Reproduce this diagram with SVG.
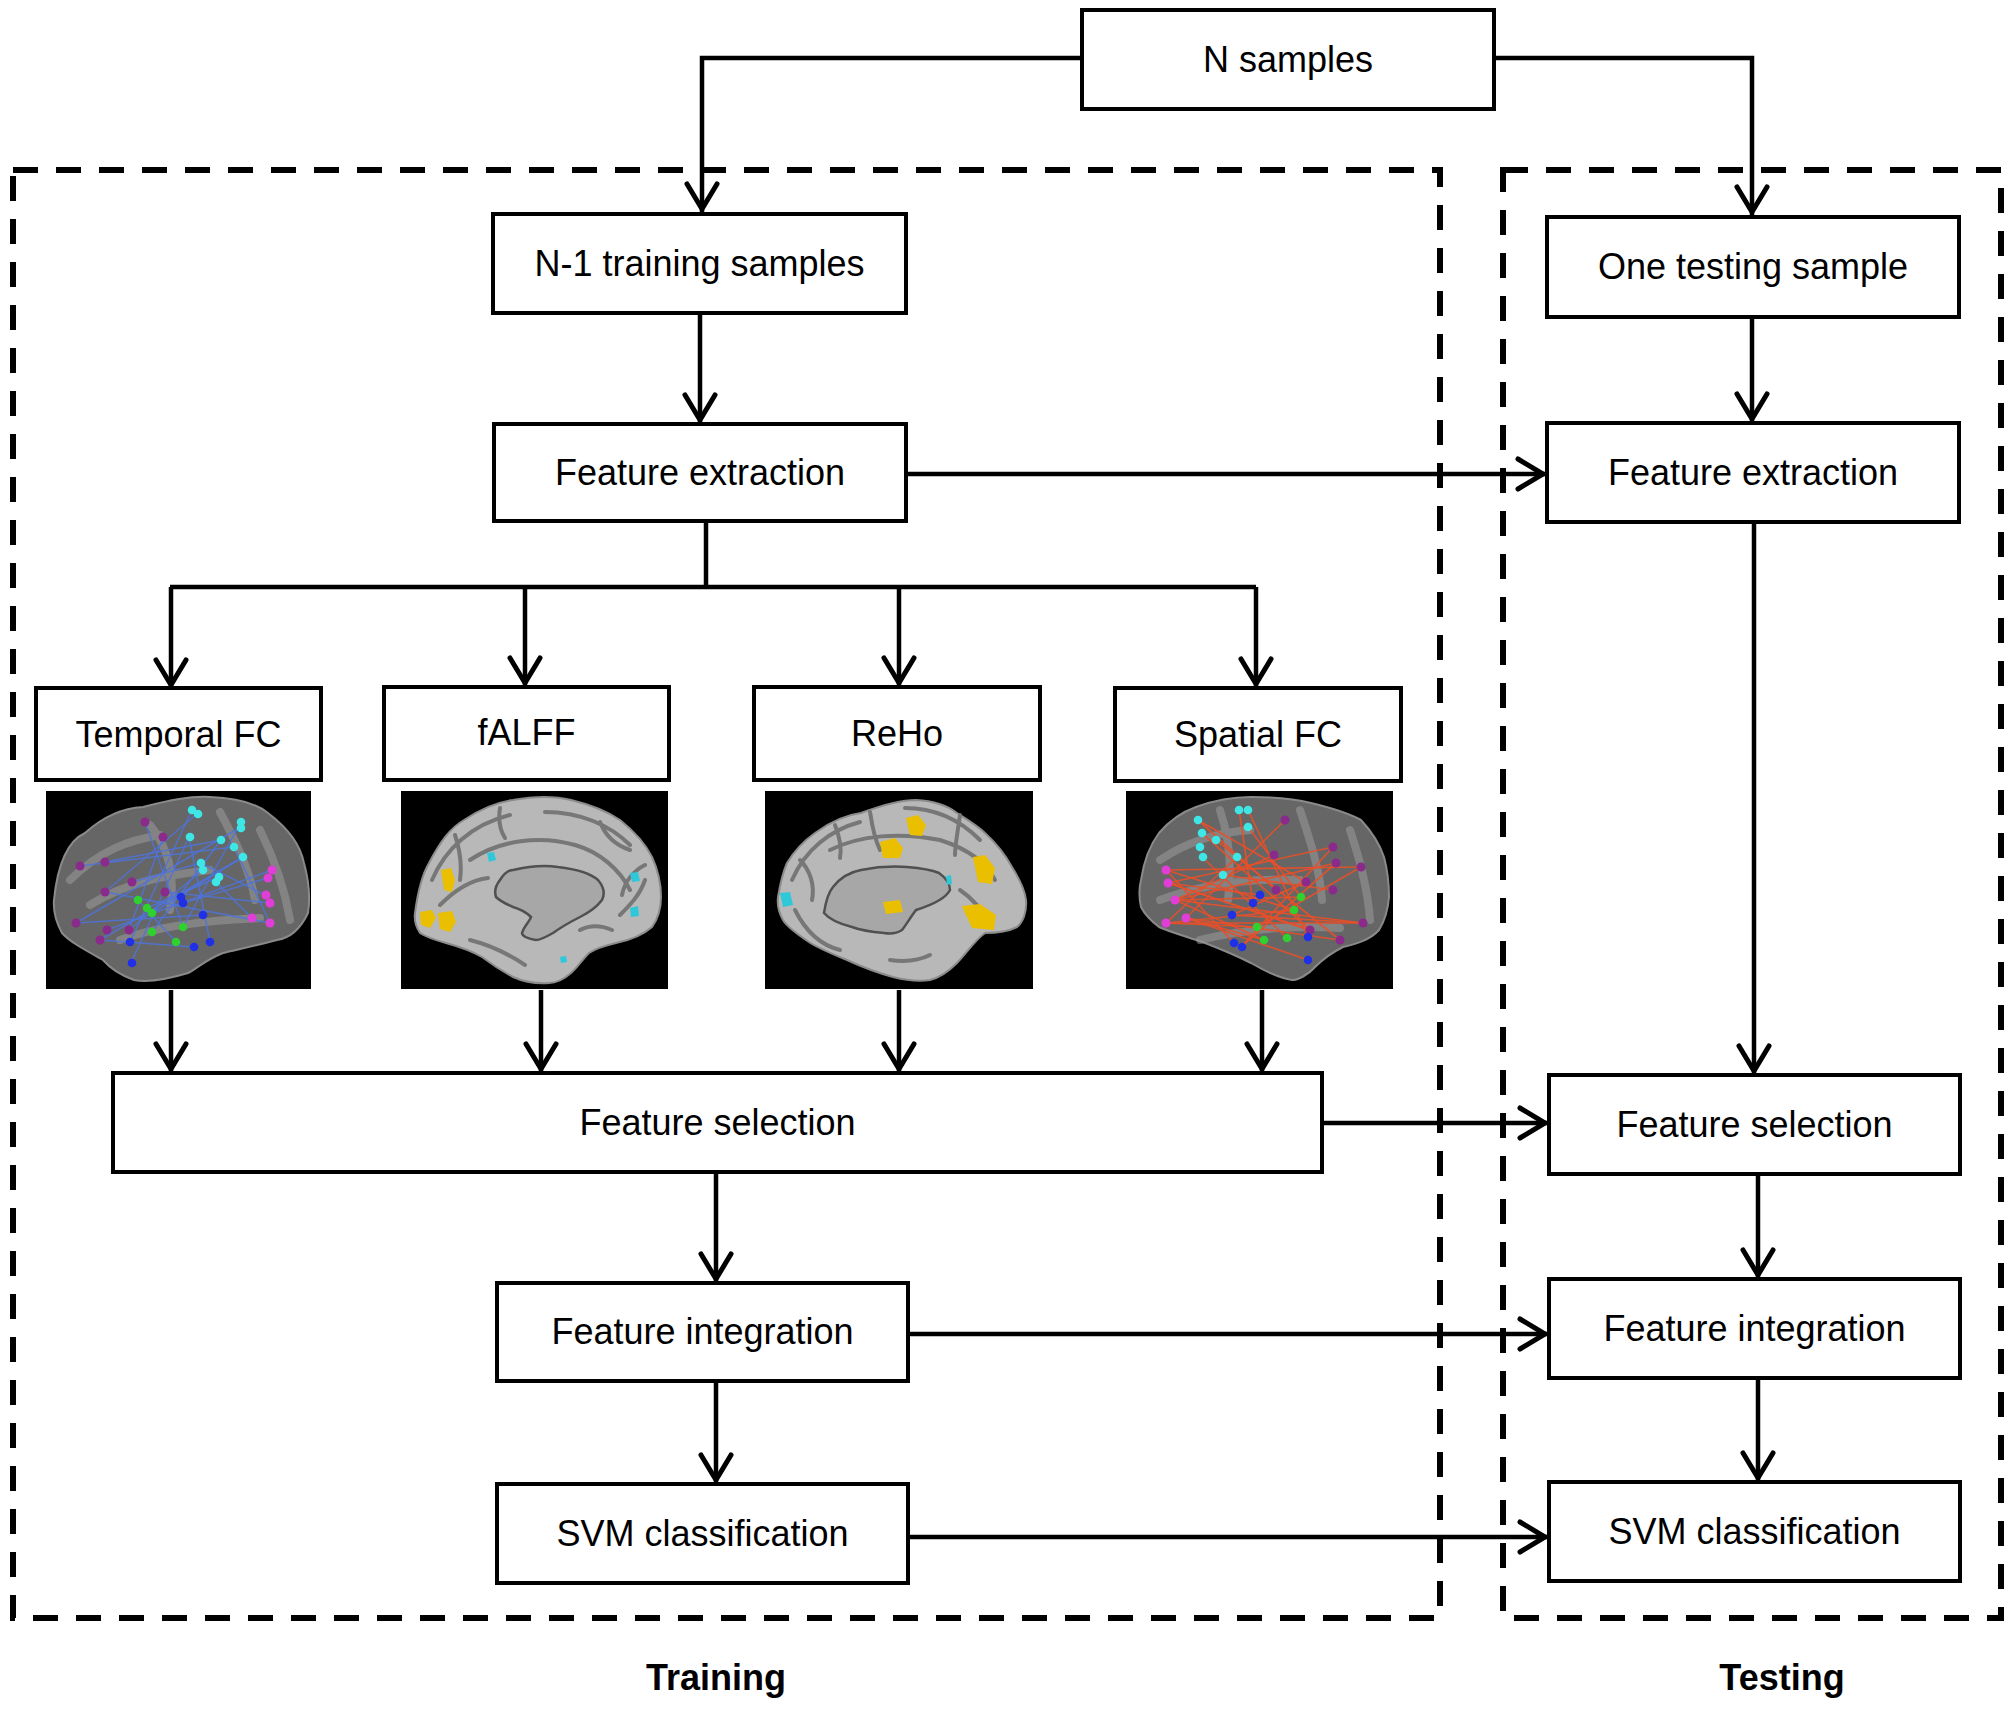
<svg xmlns="http://www.w3.org/2000/svg" width="2008" height="1709" viewBox="0 0 2008 1709">
<style>
.box{fill:#fff;stroke:#000;stroke-width:4}
.lbl{font-family:"Liberation Sans",Arial,sans-serif;font-size:36px;fill:#000;text-anchor:middle}
.ttl{font-family:"Liberation Sans",Arial,sans-serif;font-size:36px;font-weight:bold;fill:#000;text-anchor:middle}
.cn{fill:none;stroke:#000;stroke-width:4.5}
.arr{marker-end:url(#ah)}
.dash{fill:none;stroke:#000;stroke-width:6;stroke-dasharray:25 18}
.bg{fill:#000}
.lat{fill:#666;stroke:#8a8a8a;stroke-width:2}
.gy{fill:none;stroke:#a0a0a0;stroke-width:8;stroke-linecap:round;opacity:.5}
.med{fill:#b8b8b8;stroke:#8c8c8c;stroke-width:2}
.sul{fill:none;stroke:#777;stroke-width:4;stroke-linecap:round}
.cc{fill:#a7a7a7;stroke:#505050;stroke-width:2.5}
.bl line{stroke:#4f74da;stroke-width:1.5;opacity:.85}
.rl line{stroke:#e8502a;stroke-width:1.7;opacity:.9}
.cy{fill:#3fe6e6}.pu{fill:#8a2a8a}.mg{fill:#e03ed6}.gr{fill:#2fd02f}.bu{fill:#2030e6}
.yl{fill:#e9bf00}.cya{fill:#2fc8d8}
</style>
<defs>
<marker id="ah" markerUnits="userSpaceOnUse" viewBox="-36 -20 40 40" markerWidth="40" markerHeight="40" refX="0" refY="0" orient="auto" overflow="visible">
<path d="M-29,-15 L-4,0 L-29,15" fill="none" stroke="#000" stroke-width="5" stroke-linecap="round"/>
</marker>
</defs>
<rect width="2008" height="1709" fill="#fff"/>

<g id="regions">
<rect class="dash" x="13" y="170" width="1427" height="1448"/>
<rect class="dash" x="1503" y="170" width="498" height="1448"/>
<text class="ttl" x="716" y="1690">Training</text>
<text class="ttl" x="1782" y="1690">Testing</text>
</g>

<g id="connectors">
<path class="cn arr" d="M1082,58 H702 V213"/>
<path class="cn arr" d="M1494,58 H1752 V216"/>
<path class="cn arr" d="M700,313 V424"/>
<path class="cn arr" d="M906,474 H1547"/>
<path class="cn" d="M706,521 V587"/>
<path class="cn" d="M170,587 H1256"/>
<path class="cn arr" d="M171,587 V689"/>
<path class="cn arr" d="M525,587 V687"/>
<path class="cn arr" d="M899,587 V687"/>
<path class="cn arr" d="M1256,587 V688"/>
<path class="cn arr" d="M171,990 V1073"/>
<path class="cn arr" d="M541,990 V1073"/>
<path class="cn arr" d="M899,990 V1073"/>
<path class="cn arr" d="M1262,990 V1073"/>
<path class="cn arr" d="M1752,317 V423"/>
<path class="cn arr" d="M1754,522 V1075"/>
<path class="cn arr" d="M1322,1123 H1549"/>
<path class="cn arr" d="M716,1172 V1283"/>
<path class="cn arr" d="M716,1381 V1484"/>
<path class="cn arr" d="M908,1334 H1549"/>
<path class="cn arr" d="M908,1537 H1549"/>
<path class="cn arr" d="M1758,1174 V1279"/>
<path class="cn arr" d="M1758,1378 V1482"/>
</g>

<g id="n-samples"><rect class="box" x="1082" y="10" width="412" height="99"/><text class="lbl" x="1288" y="72">N samples</text></g>
<g id="n1-training"><rect class="box" x="493" y="214" width="413" height="99"/><text class="lbl" x="699.5" y="276">N-1 training samples</text></g>
<g id="fe-train"><rect class="box" x="494" y="424" width="412" height="97"/><text class="lbl" x="700" y="485">Feature extraction</text></g>
<g id="one-testing"><rect class="box" x="1547" y="217" width="412" height="100"/><text class="lbl" x="1753" y="279">One testing sample</text></g>
<g id="fe-test"><rect class="box" x="1547" y="423" width="412" height="99"/><text class="lbl" x="1753" y="485">Feature extraction</text></g>
<g id="temporal-fc"><rect class="box" x="36" y="688" width="285" height="92"/><text class="lbl" x="178.5" y="747">Temporal FC</text></g>
<g id="falff"><rect class="box" x="384" y="687" width="285" height="93"/><text class="lbl" x="526.5" y="745">fALFF</text></g>
<g id="reho"><rect class="box" x="754" y="687" width="286" height="93"/><text class="lbl" x="897" y="746">ReHo</text></g>
<g id="spatial-fc"><rect class="box" x="1115" y="688" width="286" height="93"/><text class="lbl" x="1258" y="747">Spatial FC</text></g>
<g id="fs-train"><rect class="box" x="113" y="1073" width="1209" height="99"/><text class="lbl" x="717.5" y="1135">Feature selection</text></g>
<g id="fs-test"><rect class="box" x="1549" y="1075" width="411" height="99"/><text class="lbl" x="1754.5" y="1137">Feature selection</text></g>
<g id="fi-train"><rect class="box" x="497" y="1283" width="411" height="98"/><text class="lbl" x="702.5" y="1344">Feature integration</text></g>
<g id="fi-test"><rect class="box" x="1549" y="1279" width="411" height="99"/><text class="lbl" x="1754.5" y="1341">Feature integration</text></g>
<g id="svm-train"><rect class="box" x="497" y="1484" width="411" height="99"/><text class="lbl" x="702.5" y="1546">SVM classification</text></g>
<g id="svm-test"><rect class="box" x="1549" y="1482" width="411" height="99"/><text class="lbl" x="1754.5" y="1544">SVM classification</text></g>

<g id="brain-temporal-fc">
<rect class="bg" x="46" y="791" width="265" height="198"/>
<path class="lat" d="M54,900 C58,860 70,840 85,833 C105,815 125,808 143,807 C170,800 190,796 210,797 C240,798 258,805 268,813 C290,830 300,845 304,863 C310,885 310,900 308,913 C300,930 290,938 277,940 C255,946 235,950 223,953 C205,960 195,970 188,973 C165,980 145,982 134,980 C120,975 110,968 103,960 C85,950 70,942 62,933 C56,922 53,912 54,900 Z"/>
<path class="gy" d="M70,880 C100,850 130,840 160,835 M90,905 C130,880 170,875 210,870 M120,940 C160,925 210,920 260,918 M150,825 C170,850 175,880 170,910 M220,812 C235,840 250,870 255,900 M260,830 C275,860 285,890 290,920"/>
<g class="bl">
<line x1="192" y1="810" x2="130" y2="942"/><line x1="198" y1="813" x2="105" y2="892"/><line x1="241" y1="822" x2="183" y2="927"/><line x1="241" y1="827" x2="76" y2="923"/><line x1="189" y1="837" x2="210" y2="942"/><line x1="221" y1="840" x2="152" y2="932"/><line x1="234" y1="847" x2="270" y2="923"/><line x1="243" y1="857" x2="100" y2="940"/><line x1="201" y1="863" x2="265" y2="895"/><line x1="203" y1="870" x2="129" y2="930"/><line x1="219" y1="877" x2="147" y2="908"/><line x1="216" y1="882" x2="252" y2="918"/><line x1="80" y1="866" x2="234" y2="847"/><line x1="105" y1="862" x2="221" y2="840"/><line x1="165" y1="892" x2="270" y2="903"/><line x1="76" y1="923" x2="203" y2="915"/><line x1="107" y1="930" x2="272" y2="870"/><line x1="138" y1="900" x2="176" y2="942"/><line x1="152" y1="913" x2="243" y2="857"/><line x1="131" y1="963" x2="189" y2="837"/><line x1="183" y1="903" x2="268" y2="878"/><line x1="100" y1="940" x2="194" y2="947"/><line x1="132" y1="882" x2="201" y2="863"/><line x1="145" y1="822" x2="183" y2="927"/><line x1="163" y1="837" x2="129" y2="930"/><line x1="105" y1="892" x2="270" y2="923"/>
</g>
<g class="cy"><circle cx="192" cy="810" r="4.3"/><circle cx="198" cy="814" r="4.3"/><circle cx="241" cy="822" r="4.3"/><circle cx="241" cy="828" r="4.3"/><circle cx="190" cy="837" r="4.3"/><circle cx="221" cy="840" r="4.3"/><circle cx="234" cy="847" r="4.3"/><circle cx="243" cy="857" r="4.3"/><circle cx="201" cy="863" r="4.3"/><circle cx="203" cy="870" r="4.3"/><circle cx="219" cy="877" r="4.3"/><circle cx="216" cy="882" r="4.3"/></g>
<g class="pu"><circle cx="145" cy="822" r="4.5"/><circle cx="163" cy="837" r="4.5"/><circle cx="105" cy="862" r="4.5"/><circle cx="80" cy="866" r="4.5"/><circle cx="132" cy="882" r="4.5"/><circle cx="105" cy="892" r="4.5"/><circle cx="165" cy="892" r="4.5"/><circle cx="76" cy="923" r="4.5"/><circle cx="107" cy="930" r="4.5"/><circle cx="129" cy="930" r="4.5"/><circle cx="100" cy="940" r="4.5"/></g>
<g class="mg"><circle cx="272" cy="870" r="4.5"/><circle cx="268" cy="878" r="4.5"/><circle cx="266" cy="895" r="4.5"/><circle cx="270" cy="903" r="4.5"/><circle cx="252" cy="918" r="4.5"/><circle cx="270" cy="923" r="4.5"/></g>
<g class="gr"><circle cx="138" cy="900" r="4.3"/><circle cx="147" cy="908" r="4.3"/><circle cx="152" cy="913" r="4.3"/><circle cx="183" cy="927" r="4.3"/><circle cx="152" cy="932" r="4.3"/><circle cx="176" cy="942" r="4.3"/></g>
<g class="bu"><circle cx="181" cy="897" r="4.3"/><circle cx="183" cy="903" r="4.3"/><circle cx="203" cy="915" r="4.3"/><circle cx="130" cy="942" r="4.3"/><circle cx="210" cy="942" r="4.3"/><circle cx="194" cy="947" r="4.3"/><circle cx="132" cy="963" r="4.3"/></g>
</g>

<g id="brain-falff">
<rect class="bg" x="401" y="791" width="267" height="198"/>
<path class="med" d="M415,913 C418,890 422,875 429,863 C440,842 450,828 464,820 C482,808 498,802 513,800 C535,796 555,796 571,800 C592,805 608,812 620,820 C635,832 646,845 652,857 C658,870 661,885 661,897 C661,910 657,920 652,927 C642,936 630,940 616,943 C603,946 595,949 589,953 C582,960 577,968 571,973 C563,980 556,983 549,983 C535,984 522,981 513,977 C500,970 490,963 482,957 C470,950 457,946 446,943 C435,940 426,937 420,933 C416,927 414,920 415,913 Z"/>
<path class="sul" d="M432,880 C445,850 470,825 510,815 M545,812 C580,812 610,825 630,845 M470,860 C500,840 540,835 575,845 C600,852 620,870 630,890 M440,905 C455,890 470,880 488,878 M620,915 C630,905 640,895 645,880 M470,940 C490,945 510,955 525,965 M580,930 C590,925 600,925 612,930 M455,835 C460,850 462,865 460,880 M600,822 C605,835 615,845 630,850 M500,808 C498,820 500,830 505,838 M645,865 C635,870 625,880 622,895"/>
<path class="cc" d="M500,880 C505,872 510,870 513,870 C530,866 545,865 558,867 C575,869 590,873 598,880 C604,887 605,894 602,900 C596,908 588,913 580,917 C568,923 560,928 553,933 C546,937 540,940 536,940 C528,939 522,936 522,933 C524,926 530,921 531,917 C526,912 520,909 513,907 C506,904 500,901 496,897 C494,891 496,885 500,880 Z"/>
<path class="yl" d="M441,870 L451,868 L455,880 L452,892 L444,890 Z"/>
<path class="yl" d="M420,912 L432,910 L436,918 L430,928 L421,925 Z"/>
<path class="yl" d="M438,913 L452,911 L456,922 L450,932 L440,929 Z"/>
<path class="cya" d="M487,853 L494,852 L496,860 L489,862 Z"/>
<path class="cya" d="M630,873 L638,872 L640,881 L632,882 Z"/>
<path class="cya" d="M630,908 L638,906 L639,916 L631,917 Z"/>
<path class="cya" d="M560,957 L566,956 L567,962 L561,963 Z"/>
</g>

<g id="brain-reho">
<rect class="bg" x="765" y="791" width="268" height="198"/>
<path class="med" d="M778,897 C780,885 783,872 787,863 C795,850 805,840 815,833 C830,822 845,815 861,813 C880,806 900,800 916,800 C935,801 948,806 957,813 C968,820 978,826 985,833 C998,845 1006,856 1012,867 C1020,880 1025,890 1026,900 C1027,912 1023,922 1017,927 C1007,932 995,933 985,933 C975,940 965,955 957,963 C948,972 938,978 930,980 C918,982 905,980 893,977 C875,972 860,966 847,960 C830,953 815,947 806,940 C796,933 787,927 783,920 C779,913 777,905 778,897 Z"/>
<path class="sul" d="M792,880 C805,850 830,830 860,822 M905,808 C935,808 960,820 980,840 M830,850 C860,835 900,832 940,840 C965,848 985,860 995,880 M795,910 C805,930 820,945 840,950 M960,890 C975,900 985,915 990,925 M930,955 C920,960 905,962 890,960 M870,812 C872,825 875,840 880,850 M960,815 C958,830 955,845 955,855 M800,860 C810,870 815,885 812,900 M835,825 C840,838 842,848 840,858"/>
<path class="cc" d="M824,913 C826,900 828,893 833,887 C840,878 850,872 861,870 C876,867 893,866 907,867 C920,868 932,870 939,873 C946,878 950,884 950,890 C946,898 935,904 916,910 C910,918 906,925 902,930 C896,934 890,934 884,933 C872,932 860,930 852,927 C840,924 830,920 824,913 Z"/>
<path class="yl" d="M880,842 L895,838 L903,848 L900,858 L883,858 Z"/>
<path class="yl" d="M906,818 L918,815 L926,825 L922,836 L910,835 Z"/>
<path class="yl" d="M973,857 L985,855 L995,868 L992,884 L978,882 Z"/>
<path class="yl" d="M962,906 L980,904 L996,915 L994,930 L972,928 Z"/>
<path class="yl" d="M883,902 L900,900 L903,912 L886,914 Z"/>
<path class="cya" d="M780,893 L790,892 L793,905 L783,907 Z"/>
<path class="cya" d="M946,876 L951,875 L952,884 L947,885 Z"/>
</g>

<g id="brain-spatial-fc">
<rect class="bg" x="1126" y="791" width="267" height="198"/>
<path class="lat" d="M1141,880 C1144,860 1150,845 1159,833 C1170,820 1182,812 1196,807 C1215,800 1235,797 1251,797 C1275,797 1295,799 1311,803 C1332,808 1350,814 1361,820 C1372,832 1380,845 1384,857 C1388,872 1389,885 1389,897 C1388,910 1384,922 1379,930 C1370,940 1356,944 1343,947 C1333,952 1322,960 1315,967 C1308,975 1298,980 1292,980 C1278,978 1263,970 1251,963 C1235,955 1218,948 1205,943 C1188,937 1170,932 1159,927 C1150,920 1144,913 1141,907 C1139,898 1139,888 1141,880 Z"/>
<path class="gy" d="M1160,860 C1190,840 1220,832 1250,830 M1160,900 C1200,885 1250,878 1300,880 M1200,940 C1240,930 1290,925 1340,928 M1220,810 C1230,840 1232,870 1228,900 M1300,810 C1310,840 1320,870 1322,900 M1350,830 C1360,860 1368,890 1370,920"/>
<g class="rl">
<line x1="1166" y1="870" x2="1361" y2="867"/><line x1="1168" y1="883" x2="1333" y2="847"/><line x1="1175" y1="900" x2="1336" y2="863"/><line x1="1186" y1="918" x2="1308" y2="960"/><line x1="1166" y1="923" x2="1363" y2="923"/><line x1="1239" y1="810" x2="1253" y2="903"/><line x1="1248" y1="810" x2="1308" y2="937"/><line x1="1198" y1="820" x2="1306" y2="882"/><line x1="1216" y1="840" x2="1340" y2="940"/><line x1="1202" y1="857" x2="1287" y2="938"/><line x1="1237" y1="857" x2="1166" y2="923"/><line x1="1223" y1="875" x2="1333" y2="890"/><line x1="1285" y1="820" x2="1186" y2="918"/><line x1="1274" y1="855" x2="1175" y2="900"/><line x1="1260" y1="895" x2="1168" y2="883"/><line x1="1232" y1="915" x2="1363" y2="923"/><line x1="1234" y1="943" x2="1166" y2="870"/><line x1="1241" y1="947" x2="1333" y2="847"/><line x1="1301" y1="897" x2="1175" y2="900"/><line x1="1294" y1="910" x2="1166" y2="923"/><line x1="1257" y1="927" x2="1361" y2="867"/><line x1="1264" y1="940" x2="1186" y2="918"/><line x1="1310" y1="930" x2="1168" y2="883"/><line x1="1276" y1="890" x2="1198" y2="820"/><line x1="1306" y1="882" x2="1232" y2="915"/><line x1="1336" y1="863" x2="1241" y2="947"/><line x1="1248" y1="827" x2="1301" y2="897"/><line x1="1202" y1="833" x2="1310" y2="930"/><line x1="1175" y1="900" x2="1363" y2="923"/><line x1="1166" y1="870" x2="1294" y2="910"/><line x1="1340" y1="940" x2="1186" y2="918"/><line x1="1166" y1="923" x2="1257" y2="927"/><line x1="1168" y1="883" x2="1310" y2="930"/><line x1="1175" y1="900" x2="1264" y2="940"/>
</g>
<g class="cy"><circle cx="1239" cy="810" r="4.3"/><circle cx="1248" cy="810" r="4.3"/><circle cx="1198" cy="820" r="4.3"/><circle cx="1202" cy="833" r="4.3"/><circle cx="1216" cy="840" r="4.3"/><circle cx="1203" cy="857" r="4.3"/><circle cx="1237" cy="857" r="4.3"/><circle cx="1223" cy="875" r="4.3"/><circle cx="1248" cy="827" r="4.3"/><circle cx="1200" cy="847" r="4.3"/></g>
<g class="pu"><circle cx="1285" cy="820" r="4.5"/><circle cx="1274" cy="855" r="4.5"/><circle cx="1333" cy="847" r="4.5"/><circle cx="1336" cy="863" r="4.5"/><circle cx="1361" cy="867" r="4.5"/><circle cx="1306" cy="882" r="4.5"/><circle cx="1333" cy="890" r="4.5"/><circle cx="1276" cy="890" r="4.5"/><circle cx="1310" cy="930" r="4.5"/><circle cx="1340" cy="940" r="4.5"/><circle cx="1363" cy="923" r="4.5"/></g>
<g class="mg"><circle cx="1166" cy="870" r="4.5"/><circle cx="1168" cy="883" r="4.5"/><circle cx="1175" cy="900" r="4.5"/><circle cx="1186" cy="918" r="4.5"/><circle cx="1166" cy="923" r="4.5"/></g>
<g class="bu"><circle cx="1260" cy="895" r="4.3"/><circle cx="1253" cy="903" r="4.3"/><circle cx="1232" cy="915" r="4.3"/><circle cx="1234" cy="943" r="4.3"/><circle cx="1242" cy="947" r="4.3"/><circle cx="1308" cy="937" r="4.3"/><circle cx="1308" cy="960" r="4.3"/></g>
<g class="gr"><circle cx="1301" cy="897" r="4.3"/><circle cx="1294" cy="910" r="4.3"/><circle cx="1257" cy="927" r="4.3"/><circle cx="1264" cy="940" r="4.3"/><circle cx="1287" cy="938" r="4.3"/></g>
</g>
</svg>
